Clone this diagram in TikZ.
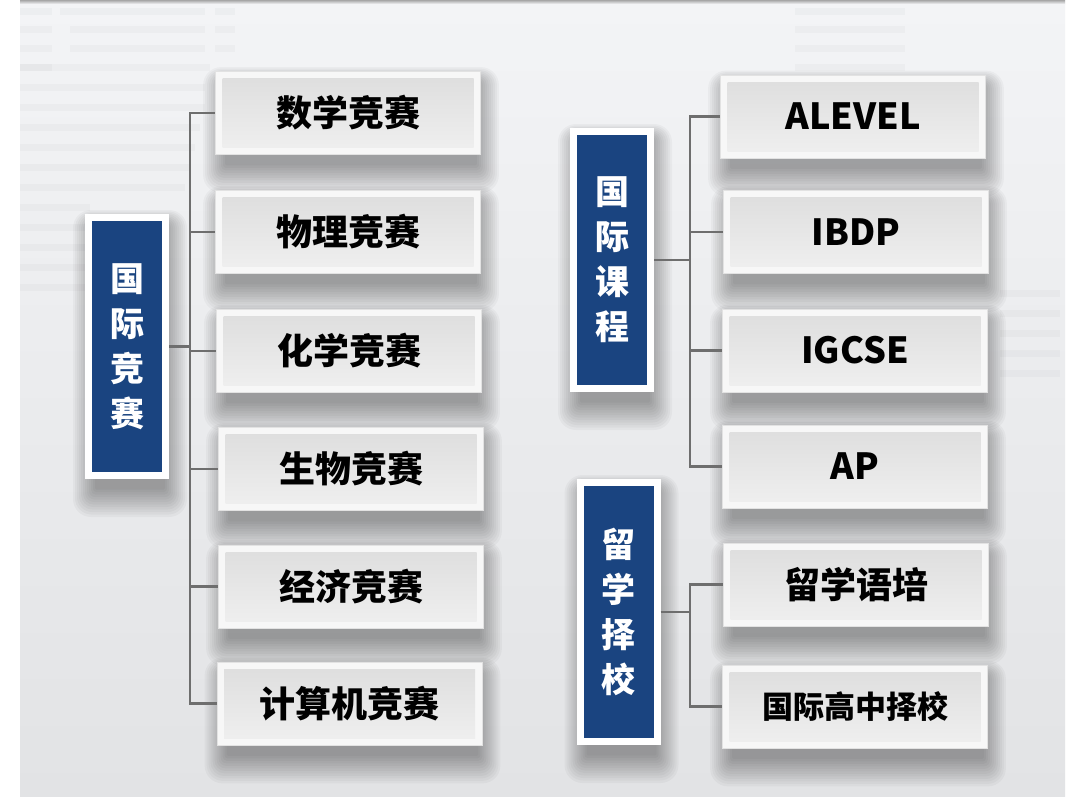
\documentclass[tikz,border=0pt]{standalone}
\usepackage{fontspec}
\newfontfamily\cjk{Noto Sans CJK SC}
\definecolor{navy}{HTML}{1A4480}
\definecolor{conn}{HTML}{6E6E6E}
\definecolor{bgtop}{HTML}{F3F4F6}
\definecolor{bgbot}{HTML}{E2E3E5}
\definecolor{boxframe}{HTML}{F7F7F7}
\definecolor{boxedge}{HTML}{E2E2E2}
\definecolor{innertop}{HTML}{DDDDDD}
\definecolor{innerbot}{HTML}{F0F0F0}
\definecolor{bgline}{HTML}{B8BABD}
\pgfdeclarelayer{back}
\pgfdeclarelayer{shadow}
\pgfsetlayers{back,shadow,main}
\tikzset{
  itembox/.style={minimum width=265pt, minimum height=83pt, inner sep=0pt,
    fill=boxframe, draw=boxedge, line width=0.8pt,
    path picture={\fill[top color=innertop, bottom color=innerbot]
      ([xshift=7pt,yshift=-7pt]path picture bounding box.north west) rectangle
      ([xshift=-7pt,yshift=7pt]path picture bounding box.south east);},
    font=\cjk\bfseries\fontsize{36}{40}\selectfont, text=black},
  smallitem/.style={itembox, font=\cjk\bfseries\fontsize{31}{36}\selectfont},
  catbox/.style={fill=navy, draw=white, line width=7pt, minimum width=77pt,
    inner sep=0pt, text=white, align=center,
    font=\cjk\bfseries\fontsize{34}{45}\selectfont},
  connline/.style={draw=conn, line width=2.5pt},
  bgbar/.style={fill=bgline, opacity=0.10},
  shadowlayer/.style={fill=black, opacity=0.03}
}
\newcommand\softshadow[1]{%
  \foreach \k in {1,...,12}{%
    \fill[shadowlayer, rounded corners=1.5*\k pt]
      ([xshift=12pt-2*\k pt, yshift=-14pt+1.5*\k pt]#1.north west) rectangle
      ([xshift=-6pt+2*\k pt, yshift=-8pt-2.5*\k pt]#1.south east);}}
\begin{document}
\begin{tikzpicture}[x=1pt,y=-1pt]
\useasboundingbox (0,0) rectangle (1080,796);

% left group
\node[catbox, minimum height=258pt] (cL) at (127,346.5) {国\\际\\竞\\赛};
\node[itembox] (m1) at (348,113) {数学竞赛};
\node[itembox] (m2) at (348,232) {物理竞赛};
\node[itembox] (m3) at (349,351) {化学竞赛};
\node[itembox] (m4) at (351,469) {生物竞赛};
\node[itembox] (m5) at (351,586.5) {经济竞赛};
\node[itembox] (m6) at (349.5,703.5) {计算机竞赛};
\coordinate (tL) at (190,0);

% right top group
\node[catbox, minimum height=257pt] (cR) at (612,260) {国\\际\\课\\程};
\node[itembox] (r1) at (853,116.5) {ALEVEL};
\node[itembox] (r2) at (856,232) {IBDP};
\node[itembox] (r3) at (855,350.5) {IGCSE};
\node[itembox] (r4) at (855,466.5) {AP};
\coordinate (tR) at (690,0);

% right bottom group
\node[catbox, minimum height=259pt] (cS) at (618.5,612) {留\\学\\择\\校};
\node[itembox] (s1) at (856,584.5) {留学语培};
\node[smallitem] (s2) at (855,706.5) {国际高中择校};
\coordinate (tS) at (690,0);

% connectors
\draw[connline] (cL.east) -- (cL.east -| tL);
\foreach \m in {m1,m2,m3,m4,m5,m6}
  \draw[connline] (cL.east -| tL) |- (\m.west);
\draw[connline] (cR.east) -- (cR.east -| tR);
\foreach \m in {r1,r2,r3,r4}
  \draw[connline] (cR.east -| tR) |- (\m.west);
\draw[connline] (cS.east) -- (cS.east -| tS);
\foreach \m in {s1,s2}
  \draw[connline] (cS.east -| tS) |- (\m.west);

% shadows
\begin{pgfonlayer}{shadow}
\foreach \n in {cL,m1,m2,m3,m4,m5,m6,cR,r1,r2,r3,r4,cS,s1,s2}
  {\softshadow{\n}}
\end{pgfonlayer}

% background
\begin{pgfonlayer}{back}
\fill[white] (0,0) rectangle (1080,796);
\shade[top color=bgtop, bottom color=bgbot] (20,0) rectangle (1065,796);
\shade[top color=gray!70, bottom color=bgtop] (20,0) rectangle (1065,4);
\foreach \yy/\xa/\xb in {8/60/205, 26/70/205, 45/70/205, 64/20/210, 84/20/205, 104/20/205, 124/20/200, 144/20/195, 164/20/190, 184/20/185, 204/20/90, 224/20/90, 244/20/85, 264/20/85, 284/20/85}
  {\fill[bgbar] (\xa,\yy) rectangle (\xb,\yy+7);}
\foreach \yy in {8, 26, 45, 64}
  {\fill[bgbar] (20,\yy) rectangle (52,\yy+7);}
\foreach \yy in {8, 26, 45}
  {\fill[bgbar] (215,\yy) rectangle (235,\yy+7);}
\foreach \yy in {8, 26, 45, 64}
  {\fill[bgbar] (795,\yy) rectangle (905,\yy+7);}
\foreach \yy in {290, 310, 330, 350, 370}
  {\fill[bgbar] (1000,\yy) rectangle (1060,\yy+7);}
\end{pgfonlayer}
\end{tikzpicture}
\end{document}
